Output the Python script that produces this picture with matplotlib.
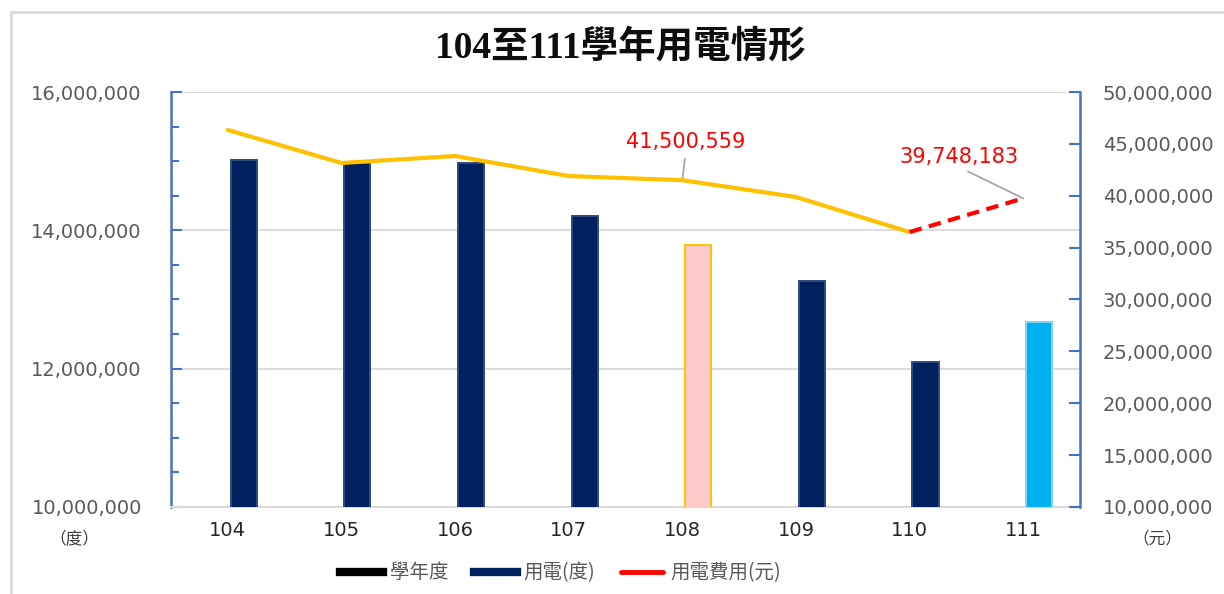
import matplotlib
matplotlib.use("Agg")
import matplotlib.pyplot as plt
from matplotlib.lines import Line2D
from matplotlib.patches import Rectangle
from matplotlib.ticker import FuncFormatter, MultipleLocator

plt.rcParams['font.family'] = ['DejaVu Sans', 'Noto Sans CJK TC']

# data
years = ['104', '105', '106', '107', '108', '109', '110', '111']
kwh = [15020000, 14970000, 14970000, 14210000, 13790000, 13270000, 12100000, 12680000]
cost = [46340000, 43160000, 43830000, 41900000, 41500559, 39880000, 36500000, 39748183]
bar_colors = ['#002060', '#002060', '#002060', '#002060', '#FFCCCC', '#002060', '#002060', '#00B0F0']
bar_edges = ['#2F4A80', '#2F4A80', '#2F4A80', '#2F4A80', '#FFC000', '#2F4A80', '#2F4A80', '#7FD7F7']

fig = plt.figure(figsize=(12.24, 5.94), dpi=100)
ax = fig.add_axes([0.1397, 0.1465, 0.8824 - 0.1397, 0.8451 - 0.1465])
ax2 = ax.twinx()

# outer chart frame
fig.patches.append(Rectangle((11 / 1224, -0.1), 1.2, 1.1 - 12 / 594, transform=fig.transFigure,
                             fill=False, edgecolor='#D9D9D9', lw=2))

x = list(range(len(years)))
ax.bar([i + 0.14 for i in x], kwh, width=0.23, color=bar_colors, edgecolor=bar_edges, lw=1.4, zorder=3)
ax.set_ylim(10000000, 16000000)
ax.set_xlim(-0.5, 7.5)
ax.yaxis.set_major_locator(MultipleLocator(2000000))
ax.yaxis.set_minor_locator(MultipleLocator(500000))
fmt = FuncFormatter(lambda v, p: f'{int(v):,}')
ax.yaxis.set_major_formatter(fmt)
ax.grid(axis='y', color='#D9D9D9', lw=1.3, zorder=0)
ax.set_axisbelow(True)
ax.set_xticks(x)
ax.set_xticklabels(years)
ax.tick_params(axis='x', length=0, pad=10, labelsize=14, labelcolor='#262626')
ax.tick_params(axis='y', which='both', direction='in', color='#4472C4', width=1.5, labelcolor='#595959',
               labelsize=14, pad=21)
ax.tick_params(axis='y', which='major', length=8)
ax.tick_params(axis='y', which='minor', length=6)

for s in ['top', 'right']:
    ax.spines[s].set_visible(False)
ax.spines['left'].set_color('#4472C4')
ax.spines['left'].set_linewidth(1.8)
ax.spines['bottom'].set_color('#D9D9D9')
ax.spines['bottom'].set_linewidth(1.5)

# cost line (yellow), last segment red dashed
ax2.plot(x[:7], cost[:7], color='#FFC000', lw=3, zorder=4, solid_capstyle='round')
ax2.plot(x[6:], cost[6:], color='#FF0000', lw=3, ls=(0, (3, 1.8)), zorder=4)
ax2.set_ylim(10000000, 50000000)
ax2.yaxis.set_major_locator(MultipleLocator(5000000))
ax2.yaxis.set_major_formatter(fmt)
ax2.tick_params(axis='y', direction='in', length=8, color='#4472C4', width=1.5, labelcolor='#595959',
                labelsize=14, pad=16.5)
for s in ['top', 'left', 'bottom']:
    ax2.spines[s].set_visible(False)
ax2.spines['right'].set_color('#4472C4')
ax2.spines['right'].set_linewidth(1.8)

lead = dict(arrowstyle='-', color='#A6A6A6', lw=1.3, shrinkA=3, shrinkB=0, relpos=(0.5, 0))
ax2.annotate(f'{cost[4]:,}', xy=(4, cost[4]), xytext=(4.03, 45200000), color='#FF0000', fontsize=15,
             ha='center', va='center', arrowprops=lead)
ax2.annotate(f'{cost[7]:,}', xy=(7, cost[7]), xytext=(6.43, 43750000), color='#FF0000', fontsize=15,
             ha='center', va='center', arrowprops=lead)

fig.text(0.507, 0.92, '104至111學年用電情形', ha='center', va='center', fontsize=27, fontweight='bold',
         family=['Liberation Serif', 'Noto Sans CJK TC'], color='#0D0D0D')
fig.text(74 / 1224, 1 - 539 / 594, '（度）', ha='center', va='center', fontsize=12, color='#404040',
         family=['Noto Sans CJK TC'])
fig.text(1157 / 1224, 1 - 539 / 594, '（元）', ha='center', va='center', fontsize=12, color='#404040',
         family=['Noto Sans CJK TC'])

handles = [Line2D([], [], color='black', lw=6),
           Line2D([], [], color='#002060', lw=6),
           Line2D([], [], color='#FF0000', lw=3.5, solid_capstyle='round')]
fig.legend(handles, ['學年度', '用電(度)', '用電費用(元)'], loc='center', bbox_to_anchor=(0.458, 1 - 573 / 594),
           ncol=3, frameon=False, handlelength=2.2, columnspacing=1.3, handletextpad=0.36,
           prop={'family': ['Noto Sans CJK TC'], 'size': 14}, labelcolor='#595959')

fig.savefig('out.png', dpi=100)
